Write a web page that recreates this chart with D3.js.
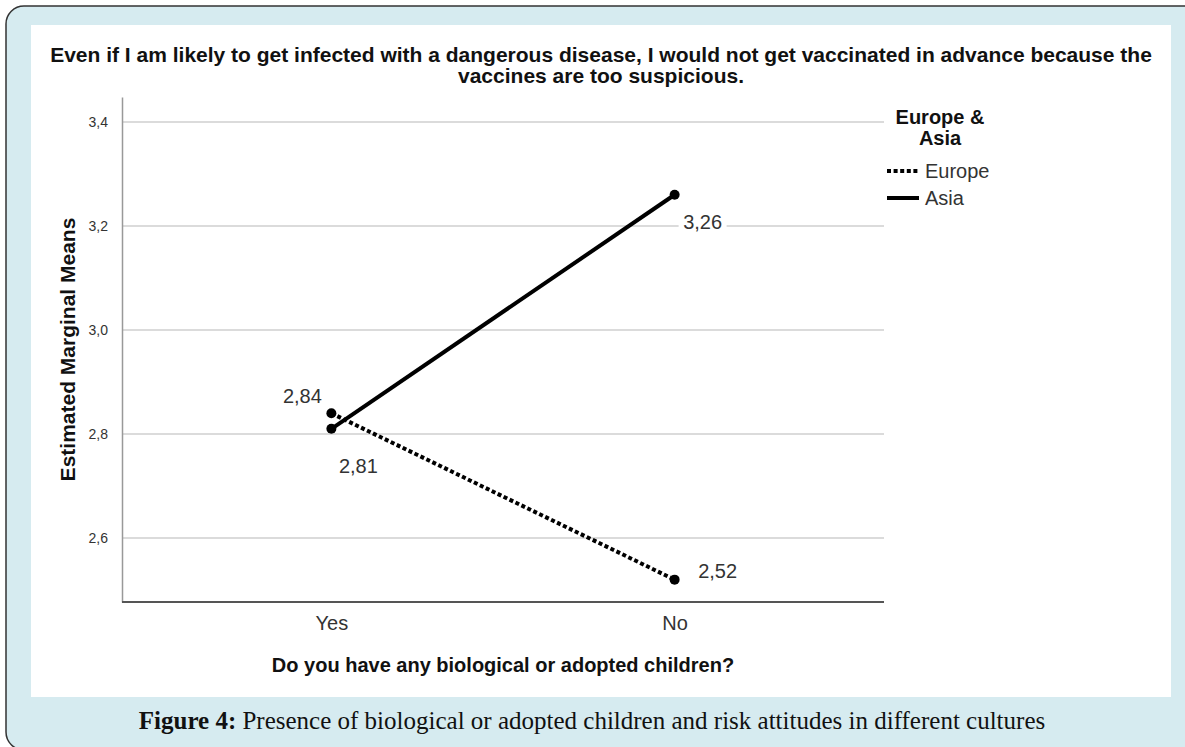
<!DOCTYPE html>
<html>
<head>
<meta charset="utf-8">
<script src="https://cdn.jsdelivr.net/npm/d3@7"></script>
<style>
  html, body { margin: 0; padding: 0; background: #fff; }
  svg { display: block; }
  text { font-family: "Liberation Sans", Arial, sans-serif; }
</style>
</head>
<body>
<div id="chart"></div>
<script>
(function() {
    'use strict';

    // Data
    const groups = ['Yes', 'No'];
    const europe = [2.84, 2.52];
    const asia = [2.81, 3.26];
    const yTicks = [2.6, 2.8, 3.0, 3.2, 3.4];
    const yDomain = [2.477, 3.448];
    const titleLines = [
        'Even if I am likely to get infected with a dangerous disease, I would not get vaccinated in advance because the',
        'vaccines are too suspicious.'
    ];
    const legendTitle = ['Europe &', 'Asia'];
    const seriesNames = ['Europe', 'Asia'];

    const W = 1185, H = 747;
    const plot = { left: 122, right: 884, top: 97, bottom: 602 };

    const svg = d3.select('#chart').append('svg')
        .attr('width', W)
        .attr('height', H);

    // Frame
    svg.append('rect')
        .attr('x', 6).attr('y', 6)
        .attr('width', 1200).attr('height', 744)
        .attr('rx', 18)
        .attr('fill', '#d6ebf0')
        .attr('stroke', '#333')
        .attr('stroke-width', 1.5);

    svg.append('rect')
        .attr('x', 31).attr('y', 25)
        .attr('width', 1140).attr('height', 672)
        .attr('fill', '#fff');

    const locale = d3.formatLocale({ decimal: ',', thousands: '.', grouping: [3], currency: ['', ''] });
    const fmt1 = locale.format('.1f');
    const fmt2 = locale.format('.2f');

    const x = d3.scalePoint().domain(groups).range([plot.left, plot.right]).padding(0.61);
    const y = d3.scaleLinear().domain(yDomain).range([plot.bottom, plot.top]);

    // Gridlines
    svg.append('g')
        .selectAll('line')
        .data(yTicks)
        .join('line')
        .attr('x1', plot.left).attr('x2', plot.right)
        .attr('y1', d => y(d)).attr('y2', d => y(d))
        .attr('stroke', '#cfcfcf')
        .attr('stroke-width', 1.5);

    // Y axis
    const yAxis = svg.append('g')
        .attr('transform', `translate(${plot.left},0)`)
        .call(d3.axisLeft(y).tickValues(yTicks).tickFormat(fmt1).tickSize(0).tickPadding(14));
    yAxis.select('.domain').attr('stroke', '#999').attr('stroke-width', 1.5);
    yAxis.selectAll('text')
        .attr('font-size', 14)
        .attr('fill', '#333')
        .style('font-family', '"Liberation Sans Narrow", "Liberation Sans", Arial, sans-serif');

    // X axis
    const xAxis = svg.append('g')
        .attr('transform', `translate(0,${plot.bottom})`)
        .call(d3.axisBottom(x).tickSize(0).tickPadding(14));
    xAxis.select('.domain')
        .attr('d', `M${plot.left},0H${plot.right}`)
        .attr('stroke', '#555').attr('stroke-width', 2);
    xAxis.selectAll('text')
        .attr('font-size', 20)
        .attr('fill', '#333');

    // Axis titles
    svg.append('text')
        .attr('x', (plot.left + plot.right) / 2)
        .attr('y', 672)
        .attr('text-anchor', 'middle')
        .attr('font-size', 20)
        .attr('font-weight', 'bold')
        .attr('fill', '#111')
        .text('Do you have any biological or adopted children?');

    svg.append('text')
        .attr('transform', `translate(75,${(plot.top + plot.bottom) / 2}) rotate(-90)`)
        .attr('text-anchor', 'middle')
        .attr('font-size', 21)
        .attr('font-weight', 'bold')
        .attr('fill', '#111')
        .text('Estimated Marginal Means');

    // Chart title
    svg.append('g')
        .selectAll('text')
        .data(titleLines)
        .join('text')
        .attr('x', 601)
        .attr('y', (d, i) => 62 + i * 21)
        .attr('text-anchor', 'middle')
        .attr('font-size', 21)
        .attr('font-weight', 'bold')
        .attr('fill', '#111')
        .text(d => d);

    // Lines
    const line = d3.line()
        .x((d, i) => x(groups[i]))
        .y(d => y(d));

    const series = [
        { name: seriesNames[0], values: europe, dash: '4 2.6' },
        { name: seriesNames[1], values: asia, dash: null }
    ];

    svg.append('g')
        .selectAll('path')
        .data(series)
        .join('path')
        .attr('d', d => line(d.values))
        .attr('fill', 'none')
        .attr('stroke', '#000')
        .attr('stroke-width', 4)
        .attr('stroke-dasharray', d => d.dash);

    // Points
    svg.append('g')
        .selectAll('g')
        .data(series)
        .join('g')
        .selectAll('circle')
        .data(d => d.values)
        .join('circle')
        .attr('cx', (d, i) => x(groups[i]))
        .attr('cy', d => y(d))
        .attr('r', 5)
        .attr('fill', '#000');

    // Value labels (offsets from each point)
    const labels = [
        { g: 0, v: europe[0], dx: -29, dy: -17, bg: false },
        { g: 0, v: asia[0], dx: 27, dy: 37, bg: false },
        { g: 1, v: asia[1], dx: 28, dy: 27, bg: true },
        { g: 1, v: europe[1], dx: 43, dy: -9, bg: false }
    ];

    const lab = svg.append('g')
        .selectAll('g')
        .data(labels)
        .join('g')
        .attr('transform', d => `translate(${x(groups[d.g]) + d.dx},${y(d.v) + d.dy})`);

    lab.filter(d => d.bg).append('rect')
        .attr('x', -24).attr('y', -12)
        .attr('width', 48).attr('height', 24)
        .attr('fill', '#fff');

    lab.append('text')
        .attr('text-anchor', 'middle')
        .attr('dy', '0.36em')
        .attr('font-size', 20)
        .attr('fill', '#333')
        .text(d => fmt2(d.v));

    // Legend
    const legend = svg.append('g');
    legend.selectAll('text.lt')
        .data(legendTitle)
        .join('text')
        .attr('class', 'lt')
        .attr('x', 940)
        .attr('y', (d, i) => 124 + i * 21)
        .attr('text-anchor', 'middle')
        .attr('font-size', 20)
        .attr('font-weight', 'bold')
        .attr('fill', '#111')
        .text(d => d);

    const item = legend.selectAll('g.item')
        .data(series)
        .join('g')
        .attr('class', 'item')
        .attr('transform', (d, i) => `translate(887,${171 + i * 27})`);

    item.append('line')
        .attr('x1', 0).attr('x2', 32)
        .attr('stroke', '#000')
        .attr('stroke-width', 4)
        .attr('stroke-dasharray', d => d.dash);

    item.append('text')
        .attr('x', 38)
        .attr('dy', '0.36em')
        .attr('font-size', 20)
        .attr('fill', '#333')
        .text(d => d.name);

    // Caption
    const cap = svg.append('text')
        .attr('x', 592)
        .attr('y', 729)
        .attr('text-anchor', 'middle')
        .attr('font-size', 25)
        .attr('fill', '#111')
        .style('font-family', '"Liberation Serif", "DejaVu Serif", serif');
    cap.append('tspan').attr('font-weight', 'bold').text('Figure 4:');
    cap.append('tspan').text(' Presence of biological or adopted children and risk attitudes in different cultures');
})();
</script>
</body>
</html>
